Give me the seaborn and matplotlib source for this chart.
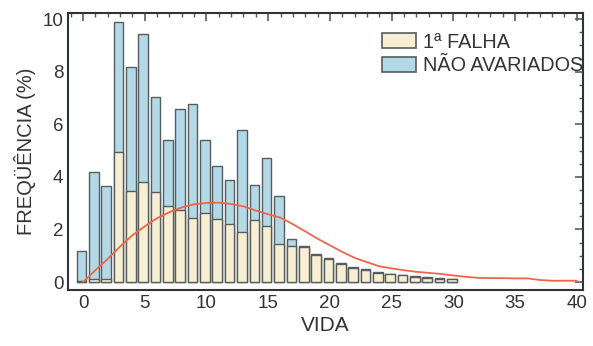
import numpy as np
import pandas as pd
import matplotlib
matplotlib.use("Agg")
import matplotlib.pyplot as plt
from matplotlib.patches import Patch
from matplotlib.ticker import MultipleLocator, FormatStrFormatter
import seaborn as sns

# life classes (bars) and frequencies (%)
vida = list(range(0, 31))
nao_avariados = [1.2, 4.2, 3.65, 9.9, 8.2, 9.45, 7.05, 5.4, 6.6, 6.77,
                 5.4, 4.4, 3.9, 5.8, 3.68, 4.72, 3.28, 1.62, 1.37, 1.06,
                 0.9, 0.72, 0.58, 0.49, 0.4, 0.32, 0.28, 0.22, 0.18, 0.15, 0.12]
primeira_falha = [0.05, 0.1, 0.1, 4.95, 3.46, 3.81, 3.43, 2.89, 2.74, 2.45,
                  2.62, 2.4, 2.2, 1.91, 2.36, 2.13, 1.45, 1.36, 1.32, 1.02,
                  0.86, 0.68, 0.54, 0.45, 0.36, 0.29, 0.25, 0.2, 0.16, 0.13, 0.1]

# fitted curve
curva_x = list(range(0, 41))
curva_y = [0.0, 0.45, 0.88, 1.35, 1.78, 2.12, 2.43, 2.66, 2.84, 2.96,
           3.01, 3.02, 2.97, 2.88, 2.72, 2.58, 2.45, 2.2, 1.93, 1.65,
           1.4, 1.15, 0.92, 0.76, 0.6, 0.52, 0.45, 0.39, 0.35, 0.31,
           0.25, 0.2, 0.16, 0.15, 0.15, 0.14, 0.14, 0.08, 0.05, 0.05, 0.05]

AMARELO = "#f8efd2"
AZUL = "#b3d9e6"
BORDA = "#555d5e"
VERMELHO = "#f0654a"
TEXTO = "#333333"

sns.set_style("white")
plt.rcParams["font.family"] = ["Liberation Sans", "DejaVu Sans"]

df = pd.DataFrame({"vida": np.array(vida) - 0.12,
                   "nao": nao_avariados,
                   "falha": primeira_falha})

fig = plt.figure(figsize=(5.93, 3.46), dpi=100)
ax = fig.add_axes([0.115, 0.162, 0.868, 0.80])

sns.barplot(data=df, x="vida", y="nao", native_scale=True, width=0.78,
            color=AZUL, saturation=1, edgecolor=BORDA, linewidth=1.0,
            errorbar=None, ax=ax)
sns.barplot(data=df, x="vida", y="falha", native_scale=True, width=0.78,
            color=AMARELO, saturation=1, edgecolor=BORDA, linewidth=1.0,
            errorbar=None, ax=ax)
sns.lineplot(x=curva_x, y=curva_y, color=VERMELHO, lw=1.3, ax=ax)

ax.set_xlim(-1.2, 40.5)
ax.set_ylim(-0.3, 10.23)
ax.xaxis.set_major_locator(MultipleLocator(5))
ax.xaxis.set_minor_locator(MultipleLocator(1))
ax.yaxis.set_major_locator(MultipleLocator(2))
ax.yaxis.set_minor_locator(MultipleLocator(0.5))
ax.xaxis.set_major_formatter(FormatStrFormatter("%d"))
ax.tick_params(which="both", direction="in", top=True, right=True,
               colors=BORDA, labelcolor=TEXTO, labelsize=13.5)
ax.tick_params(which="major", length=6, width=1.2)
ax.tick_params(which="minor", length=3, width=1.0)
for s in ax.spines.values():
    s.set_color("#2f3535")
    s.set_linewidth(1.5)

ax.set_xlabel("VIDA", fontsize=15, color=TEXTO, labelpad=3)
ax.set_ylabel("FREQÜÊNCIA (%)", fontsize=14.5, color=TEXTO, labelpad=5)

handles = [Patch(facecolor=AMARELO, edgecolor=BORDA, lw=1.2, label="1ª FALHA"),
           Patch(facecolor=AZUL, edgecolor=BORDA, lw=1.2, label="NÃO AVARIADOS")]
leg = ax.legend(handles=handles, loc="upper right", bbox_to_anchor=(1.0, 0.93),
                frameon=False, fontsize=14.3, handlelength=1.7, handleheight=0.75,
                handletextpad=0.35, labelspacing=0.25, borderaxespad=0,
                borderpad=0)
for t in leg.get_texts():
    t.set_color(TEXTO)

fig.savefig("out.png", dpi=100)
